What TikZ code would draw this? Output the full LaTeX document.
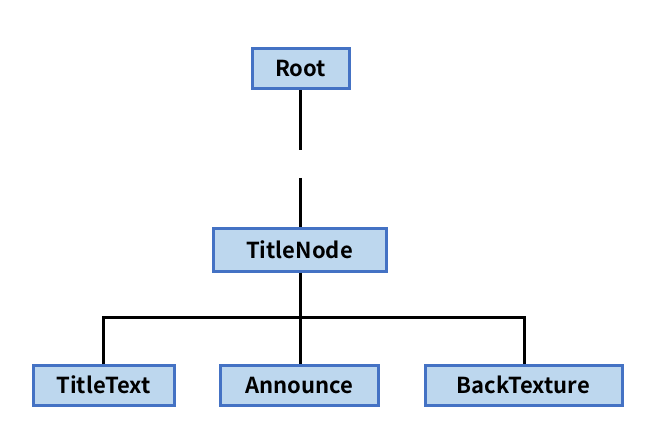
\documentclass[tikz,border=0pt]{standalone}
\usepackage{fontspec}
\setmainfont{Noto Sans CJK JP}[BoldFont={Noto Sans CJK JP Bold}]
\definecolor{boxfill}{HTML}{BDD7EE}
\definecolor{boxline}{HTML}{4472C4}
\begin{document}
\begin{tikzpicture}[x=1pt,y=-1pt,
  box/.style={draw=boxline, fill=boxfill, line width=3pt, inner sep=0pt,
    minimum height=40pt, font=\fontsize{22}{24}\selectfont\bfseries},
  conn/.style={draw=black, line width=3pt}]
\useasboundingbox (0,0) rectangle (655,430);
\node[box, minimum width=97pt] (root) at (300.5,69) {Root};
\node[box, minimum width=173pt, minimum height=42pt] (title) at (299.5,250) {TitleNode};
\node[box, minimum width=141pt] (ttext) at (103.5,385) {TitleText};
\node[box, minimum width=158pt] (ann) at (299,385) {Announce};
\node[box, minimum width=197pt] (back) at (523.5,385) {BackTexture};
\coordinate (g1) at (300,150);
\coordinate (g2) at (300,178);
\coordinate (bar) at (0,317);
\draw[conn] (root.south -| g1) -- (g1);
\draw[conn] (g2) -- (title.north -| g2);
\draw[conn] (title.south -| g2) -- (g2 |- ann.north);
\draw[conn] (ttext.north -| 103,0) -- (bar -| 103,0) -- (bar -| 524,0) -- (back.north -| 524,0);
\end{tikzpicture}
\end{document}
